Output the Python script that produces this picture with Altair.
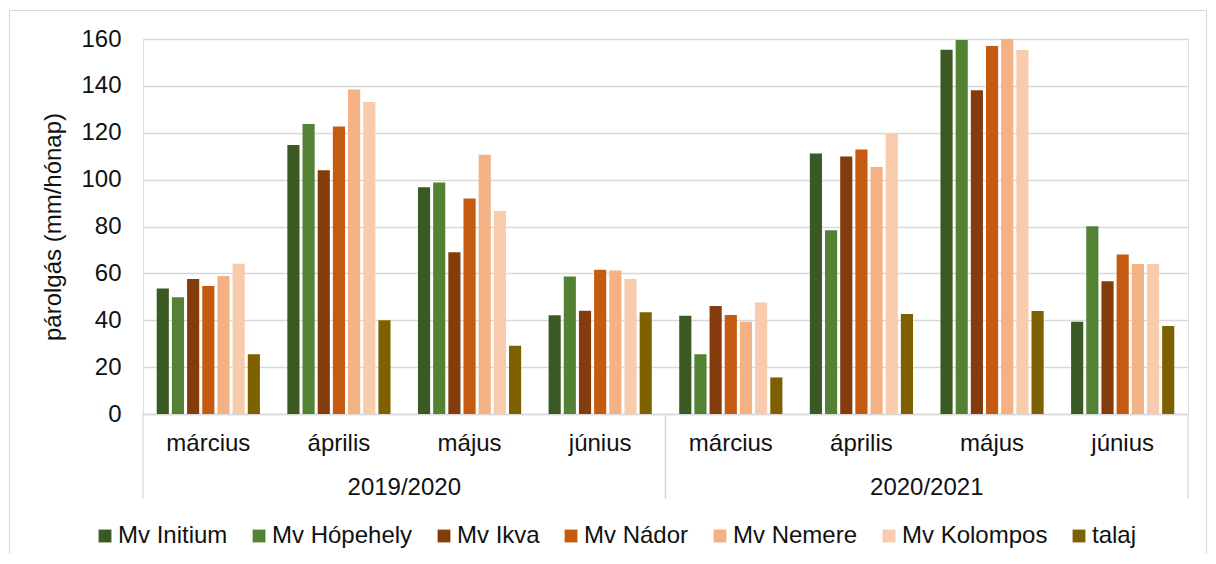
import altair as alt
import pandas as pd

series = ["Mv Initium", "Mv Hópehely", "Mv Ikva", "Mv Nádor", "Mv Nemere", "Mv Kolompos", "talaj"]
colors = ["#3B5922", "#548235", "#843C0C", "#C55A11", "#F4B183", "#F8CBAD", "#7F6000"]
years = ["2019/2020", "2020/2021"]
months = ["március", "április", "május", "június"]

# values per series, order: 2019/2020 márc..jún, 2020/2021 márc..jún
initium = [53.6, 114.8, 96.7, 42.1, 41.9, 111.1, 155.4, 39.4]
hopehely = [49.8, 123.7, 98.8, 58.7, 25.5, 78.4, 159.6, 80.1]
ikva = [57.6, 104.0, 69.0, 44.1, 46.1, 109.9, 138.1, 56.6]
nador = [54.6, 122.7, 92.0, 61.6, 42.2, 112.9, 157.0, 68.1]
nemere = [58.9, 138.5, 110.6, 61.2, 39.4, 105.4, 160.0, 64.0]
kolompos = [64.1, 133.1, 86.6, 57.6, 47.6, 119.5, 155.3, 64.0]
talaj = [25.5, 40.0, 29.1, 43.4, 15.6, 42.7, 43.9, 37.5]

y_ticks = [0, 20, 40, 60, 80, 100, 120, 140, 160]

all_vals = [initium, hopehely, ikva, nador, nemere, kolompos, talaj]
keys = [f"{y} {m}" for y in years for m in months]
rows = []
for s, vals in zip(series, all_vals):
    for k, v in zip(keys, vals):
        rows.append({"key": k, "series": s, "value": v})
df = pd.DataFrame(rows)
month_df = pd.DataFrame({"key": keys, "month": [m for y in years for m in months]})
year_df = pd.DataFrame({"year": years})

FONT = "Liberation Sans"
TXT = "#111111"
GRID = "#d9d9d9"
W, H = 1045, 375

key_scale = dict(domain=keys, paddingInner=0.21, paddingOuter=0.105)
year_scale = dict(domain=years, paddingInner=0, paddingOuter=0)

bars = alt.Chart(df).mark_bar().encode(
    x=alt.X("key:N", sort=keys, scale=alt.Scale(**key_scale),
            axis=alt.Axis(labels=False, ticks=False, title=None, grid=False,
                          domainColor=GRID, domainWidth=1.3)),
    xOffset=alt.XOffset("series:N", sort=series, scale=alt.Scale(paddingInner=0.2)),
    y=alt.Y("value:Q", scale=alt.Scale(domain=[0, 160], nice=False),
            axis=alt.Axis(values=y_ticks, title="párolgás (mm/hónap)", ticks=False, domain=False,
                          labelPadding=22, labelFontSize=24, labelColor=TXT, labelFont=FONT,
                          titleFontSize=24, titleFont=FONT, titleColor=TXT, titleFontWeight="normal",
                          titlePadding=15, gridColor=GRID, gridWidth=1.3)),
    color=alt.Color("series:N", sort=series, scale=alt.Scale(domain=series, range=colors),
                    legend=alt.Legend(orient="none", legendX=-50, legendY=485, direction="horizontal",
                                      title=None, symbolType="square", symbolSize=165,
                                      symbolStrokeWidth=0, labelFontSize=24, labelFont=FONT,
                                      labelColor=TXT, columnPadding=19, labelOffset=1, padding=0)),
)

month_text = alt.Chart(month_df).mark_text(baseline="alphabetic", fontSize=24, font=FONT, color=TXT).encode(
    x=alt.X("key:N", sort=keys, scale=alt.Scale(**key_scale), axis=None),
    y=alt.value(H + 37),
    text="month:N",
)

year_text = alt.Chart(year_df).mark_text(baseline="alphabetic", fontSize=24, font=FONT, color=TXT).encode(
    x=alt.X("year:N", sort=years, scale=alt.Scale(**year_scale), axis=None),
    y=alt.value(H + 81),
    text="year:N",
)

sep_left = alt.Chart(year_df).mark_rule(color=GRID, strokeWidth=1.3).encode(
    x=alt.X("year:N", sort=years, bandPosition=0, scale=alt.Scale(**year_scale), axis=None),
    y=alt.value(H), y2=alt.value(H + 85),
)
sep_right = alt.Chart(year_df).mark_rule(color=GRID, strokeWidth=1.3).encode(
    x=alt.X("year:N", sort=years, bandPosition=1, scale=alt.Scale(**year_scale), axis=None),
    y=alt.value(H), y2=alt.value(H + 85),
)

border = alt.Chart(pd.DataFrame({"a": [0]})).mark_rect(fill=None, stroke=GRID, strokeWidth=1).encode(
    x=alt.value(-133.5), x2=alt.value(W + 18.5), y=alt.value(-28.5), y2=alt.value(H + 200),
)

chart = alt.layer(border, bars, month_text, sep_left, sep_right, year_text).resolve_scale(
    x="independent"
).properties(
    width=W, height=H,
    autosize=alt.AutoSizeParams(type="none"),
    padding={"left": 135, "top": 31, "right": 20, "bottom": 140},
).configure_view(strokeWidth=0).configure(background="white")

chart.save("out.html", embed_options={"renderer": "svg", "actions": False})
